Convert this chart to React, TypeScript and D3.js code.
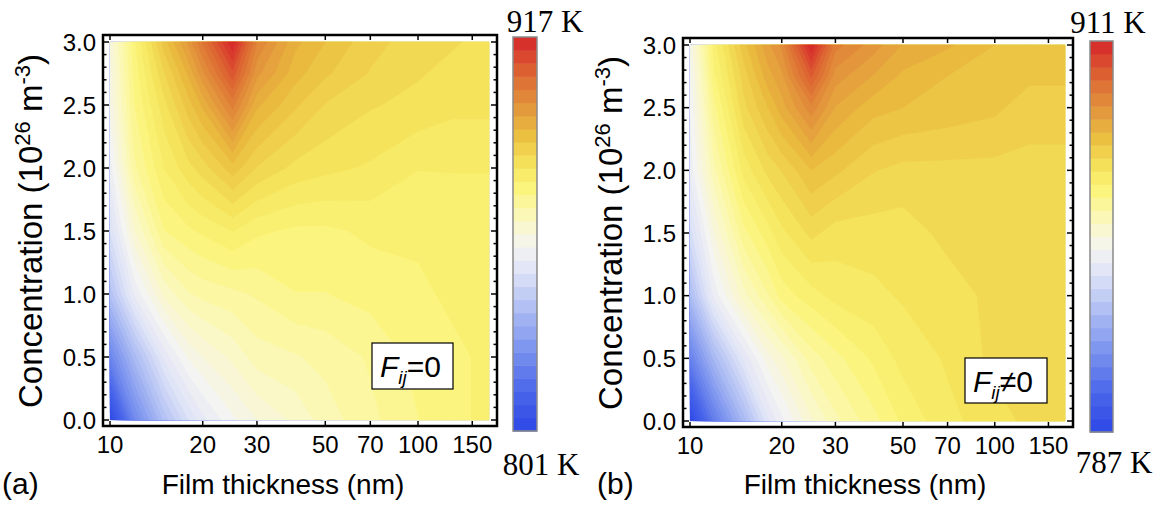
import React, { useEffect, useRef } from 'react';
import * as d3 from 'd3';

// grid of the simulation (film thickness in nm, concentration in 10^26 m^-3)
const thickness = [10, 12, 15, 18, 20, 25, 30, 40, 50, 70, 100, 130, 170];
const concentration = [0, 0.5, 1.0, 1.5, 2.0, 2.5, 2.75, 3.0];
const xTicks = [10, 20, 30, 50, 70, 100, 150];
const yTicks = [0, 0.5, 1.0, 1.5, 2.0, 2.5, 3.0];

// temperature (K), one row per concentration, lowest concentration first
const tempA = [
  [801, 822, 838, 847, 851, 856, 859, 862, 865, 868, 871, 873, 874],
  [821, 836, 850, 857, 859, 862, 865, 866, 867, 869, 872, 873, 874],
  [838, 852, 862, 866, 867, 868, 869, 871, 871, 872, 873, 874, 875],
  [847, 861, 871, 873, 874, 876, 874, 873, 873, 874, 874, 875, 875],
  [853, 868, 876, 880, 882, 887, 883, 880, 879, 878, 876, 876, 876],
  [857, 871, 880, 887, 891, 901, 891, 886, 883, 881, 880, 879, 879],
  [858, 872, 883, 891, 897, 909, 896, 889, 886, 883, 881, 880, 879],
  [859, 873, 887, 896, 903, 917, 900, 891, 888, 884, 882, 881, 880],
];
const tempB = [
  [787, 806, 824, 838, 843, 851, 856, 861, 865, 869, 871, 873, 874],
  [807, 824, 839, 848, 851, 858, 861, 865, 868, 870, 873, 874, 874],
  [825, 842, 853, 859, 863, 866, 868, 869, 870, 871, 873, 874, 874],
  [835, 849, 861, 866, 869, 873, 871, 871, 871, 873, 873, 874, 874],
  [842, 856, 868, 873, 875, 880, 878, 875, 874, 874, 874, 874, 874],
  [844, 861, 874, 880, 884, 892, 885, 881, 880, 879, 878, 876, 876],
  [845, 864, 876, 884, 887, 901, 889, 885, 882, 880, 879, 878, 878],
  [847, 866, 879, 887, 891, 911, 894, 889, 885, 883, 880, 879, 879],
];
const rangeA = [801, 917];
const rangeB = [787, 911];

const colorStops = [0, 0.1, 0.2, 0.3, 0.4, 0.47, 0.54, 0.62, 0.68, 0.75, 0.82, 0.9, 1];
const colorList = ['#2d48e6', '#4a66ea', '#7890ee', '#a9b9f3', '#dde2f7', '#f4f4f2', '#fbf8c0',
  '#fbf57a', '#f5e25a', '#ebc040', '#e3983c', '#dd6a34', '#d6262a'];

const fieldBands = 48;
const barBands = 30;
const sans = '"Liberation Sans", Arial, sans-serif';
const serif = '"Liberation Serif", "Times New Roman", serif';

const panels = [
  {
    data: tempA, range: rangeA, letter: '(a)', sign: '=',
    left: 110, right: 489, top: 42, bottom: 420,
    cb: { x: 513, y: 37, w: 24, h: 394, topX: 545, topY: 32, botX: 541, botY: 475 },
    box: { x: 372, y: 343, w: 81, h: 46 },
    letterX: 2, yTitleX: 42, xTitleX: 283, tickLabelX: 96,
  },
  {
    data: tempB, range: rangeB, letter: '(b)', sign: '\u2260',
    left: 690, right: 1065, top: 45, bottom: 421,
    cb: { x: 1090, y: 41, w: 23, h: 391, topX: 1108, topY: 33, botX: 1114, botY: 473 },
    box: { x: 965, y: 358, w: 82, h: 45 },
    letterX: 597, yTitleX: 622, xTitleX: 865, tickLabelX: 676,
  },
];

const App = () => {
  const svgRef = useRef(null);

  useEffect(() => {
    const svg = d3.select(svgRef.current);
    svg.selectAll('*').remove();

    const color = d3.scaleLinear().domain(colorStops).range(colorList).interpolate(d3.interpolateRgb);

    panels.forEach(p => {
      const g = svg.append('g');
      const x = d3.scaleLog().domain([10, 170]).range([p.left, p.right]);
      const y = d3.scaleLinear().domain([0, 3]).range([p.bottom, p.top]);

      // contour bands
      const n = thickness.length;
      const m = concentration.length;
      const thresholds = d3.range(fieldBands).map(i => p.range[0] + (i * (p.range[1] - p.range[0])) / fieldBands);
      const bands = d3.contours().size([n, m]).thresholds(thresholds)(p.data.flat());
      const colIdx = d3.scaleLinear().domain(d3.range(n)).range(thickness.map(d => x(d))).clamp(true);
      const rowIdx = d3.scaleLinear().domain(d3.range(m)).range(concentration.map(d => y(d))).clamp(true);
      const path = d3.geoPath(d3.geoTransform({
        point(px, py) { this.stream.point(colIdx(px - 0.5), rowIdx(py - 0.5)); }
      }));
      g.append('g').selectAll('path')
        .data(bands)
        .enter()
        .append('path')
        .attr('d', path)
        .attr('fill', (d, i) => color((i + 0.5) / fieldBands))
        .attr('stroke', (d, i) => color((i + 0.5) / fieldBands))
        .attr('stroke-width', 0.3);

      // frame
      const fx0 = p.left - 7, fx1 = p.right + 8, fy0 = p.top - 7, fy1 = p.bottom + 6;
      g.append('rect')
        .attr('x', fx0).attr('y', fy0)
        .attr('width', fx1 - fx0).attr('height', fy1 - fy0)
        .attr('fill', 'none').attr('stroke', '#000').attr('stroke-width', 2.5);

      // ticks
      xTicks.forEach(t => {
        g.append('line').attr('x1', x(t)).attr('x2', x(t)).attr('y1', fy1).attr('y2', fy1 - 5)
          .attr('stroke', '#000').attr('stroke-width', 1.5);
        g.append('line').attr('x1', x(t)).attr('x2', x(t)).attr('y1', fy0).attr('y2', fy0 + 5)
          .attr('stroke', '#000').attr('stroke-width', 1.5);
        g.append('text').attr('x', x(t)).attr('y', fy1 + 27)
          .attr('text-anchor', 'middle').attr('font-family', sans).attr('font-size', 24)
          .text(t);
      });
      d3.range(0, 3.001, 0.1).forEach(t => {
        const major = Math.abs(t * 2 - Math.round(t * 2)) < 1e-6;
        const len = major ? 6 : 3.5;
        g.append('line').attr('x1', fx0).attr('x2', fx0 + len).attr('y1', y(t)).attr('y2', y(t))
          .attr('stroke', '#000').attr('stroke-width', 1.5);
        g.append('line').attr('x1', fx1).attr('x2', fx1 - len).attr('y1', y(t)).attr('y2', y(t))
          .attr('stroke', '#000').attr('stroke-width', 1.5);
      });
      yTicks.forEach(t => {
        g.append('text').attr('x', p.tickLabelX).attr('y', y(t)).attr('dy', '0.36em')
          .attr('text-anchor', 'end').attr('font-family', sans).attr('font-size', 24)
          .text(d3.format('.1f')(t));
      });

      // axis titles
      g.append('text').attr('x', p.xTitleX).attr('y', 494)
        .attr('text-anchor', 'middle').attr('font-family', sans).attr('font-size', 28)
        .text('Film thickness (nm)');
      const yt = g.append('text')
        .attr('transform', `translate(${p.yTitleX},${(p.top + p.bottom) / 2}) rotate(-90)`)
        .attr('text-anchor', 'middle').attr('font-family', sans).attr('font-size', 33);
      yt.append('tspan').text('Concentration (10');
      yt.append('tspan').attr('dy', -12).attr('font-size', 22).text('26');
      yt.append('tspan').attr('dy', 12).text(' m');
      yt.append('tspan').attr('dy', -12).attr('font-size', 22).text('-3');
      yt.append('tspan').attr('dy', 12).text(')');

      g.append('text').attr('x', p.letterX).attr('y', 494)
        .attr('font-family', sans).attr('font-size', 30).text(p.letter);

      // label box
      g.append('rect').attr('x', p.box.x).attr('y', p.box.y).attr('width', p.box.w).attr('height', p.box.h)
        .attr('fill', '#fff').attr('stroke', '#000').attr('stroke-width', 1.2);
      const lt = g.append('text').attr('x', p.box.x + 8).attr('y', p.box.y + 34)
        .attr('font-family', sans).attr('font-size', 30);
      lt.append('tspan').attr('font-style', 'italic').text('F');
      lt.append('tspan').attr('font-style', 'italic').attr('font-size', 19).attr('dy', 7).text('ij');
      lt.append('tspan').attr('dy', -7).text(p.sign + '0');

      // colorbar
      const cbScale = d3.scaleLinear().domain(p.range).range([p.cb.y + p.cb.h, p.cb.y]);
      const step = (p.range[1] - p.range[0]) / barBands;
      g.append('g').selectAll('rect')
        .data(d3.range(barBands))
        .enter()
        .append('rect')
        .attr('x', p.cb.x)
        .attr('y', i => cbScale(p.range[0] + (i + 1) * step))
        .attr('width', p.cb.w)
        .attr('height', i => cbScale(p.range[0] + i * step) - cbScale(p.range[0] + (i + 1) * step) + 0.5)
        .attr('fill', i => color((i + 0.5) / barBands));
      g.append('rect').attr('x', p.cb.x).attr('y', p.cb.y).attr('width', p.cb.w).attr('height', p.cb.h)
        .attr('fill', 'none').attr('stroke', '#8a8a8a').attr('stroke-width', 1.5);
      g.append('text').attr('x', p.cb.topX).attr('y', p.cb.topY).attr('text-anchor', 'middle')
        .attr('font-family', serif).attr('font-size', 31).text(`${p.range[1]} K`);
      g.append('text').attr('x', p.cb.botX).attr('y', p.cb.botY).attr('text-anchor', 'middle')
        .attr('font-family', serif).attr('font-size', 31).text(`${p.range[0]} K`);
    });
  }, []);

  return (
    <svg ref={svgRef} width={1161} height={506}
      style={{ position: 'absolute', left: 0, top: 0, background: '#fff' }} />
  );
};

export default App;
